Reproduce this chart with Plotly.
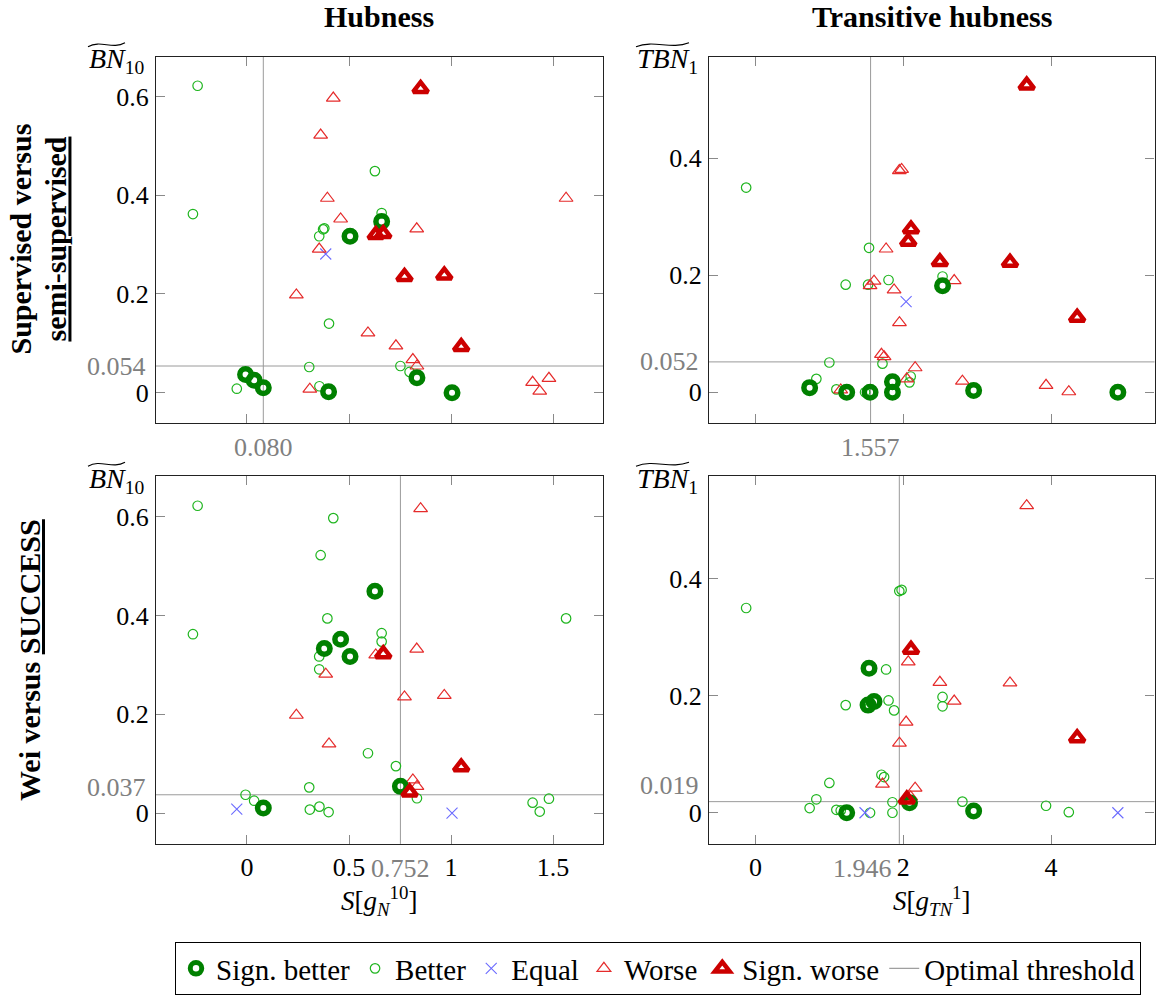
import plotly.graph_objects as go

FIG_W, FIG_H = 1156, 995
FONT = "Liberation Serif, DejaVu Serif, serif"
GRAY = "#808080"

# ---------------- data ----------------
cat_codes = ["SB", "B", "E", "W", "SW"]
cat_names = ["Sign. better", "Better", "Equal", "Worse", "Sign. worse"]

# Hubness: S[g_N^10] vs BN~_10 (shared by both rows)
hub_s = [-0.242, 0.423, 0.851, 0.361, 0.627, 0.394, 1.564, -0.265, 0.660, 0.660,
         0.459, 0.379, 0.373, 0.354, 0.505, 0.631, 0.668, 0.832, 0.354, 0.386,
         0.772, 0.967, 0.242, 0.402, 0.593, 0.730, 1.050, 0.813, 0.833, 0.305,
         0.752, 0.797, 0.833, -0.007, 0.035, 0.080, -0.050, 0.308, 0.355, 0.400,
         1.005, 1.400, 1.480, 1.435]
hub_bn = [0.622, 0.597, 0.616, 0.522, 0.449, 0.394, 0.394, 0.362, 0.364, 0.347,
          0.352, 0.333, 0.331, 0.317, 0.317, 0.320, 0.322, 0.332, 0.291, 0.281,
          0.235, 0.238, 0.198, 0.140, 0.121, 0.095, 0.093, 0.067, 0.054, 0.052,
          0.054, 0.042, 0.030, 0.037, 0.025, 0.010, 0.008, 0.007, 0.013, 0.002,
          0.000, 0.021, 0.029, 0.003]
hub_cat_sup = ["B", "W", "SW", "W", "B", "W", "W", "B", "B", "SB",
               "W", "B", "B", "B", "SB", "SW", "SW", "W", "W", "E",
               "SW", "SW", "W", "B", "W", "W", "SW", "W", "W", "B",
               "B", "B", "SB", "SB", "SB", "SB", "B", "W", "B", "SB",
               "SB", "W", "W", "W"]
hub_cat_wei = ["B", "B", "W", "B", "SB", "B", "B", "B", "B", "B",
               "SB", "SB", "B", "B", "SB", "W", "SW", "W", "B", "W",
               "W", "W", "W", "W", "B", "B", "SW", "W", "W", "B",
               "SB", "SW", "B", "B", "B", "SB", "E", "B", "B", "B",
               "E", "B", "B", "B"]

# Transitive hubness: S[g_TN^1] vs TBN~_1 (shared by both rows)
thub_s = [3.670, 1.946, 1.977, -0.127, 2.104, 2.067, 1.536, 1.767, 2.495, 3.444,
          1.220, 1.523, 1.550, 1.604, 1.800, 1.875, 2.531, 2.531, 2.689, 2.038,
          1.948, 4.353, 1.704, 1.740, 1.718, 0.999, 2.160, 0.823, 0.732, 1.094,
          1.153, 1.234, 1.482, 1.550, 1.853, 1.853, 2.047, 2.100, 2.084, 2.800,
          2.952, 3.932, 4.240, 4.904]
thub_tbn = [0.525, 0.379, 0.381, 0.350, 0.279, 0.258, 0.247, 0.245, 0.223, 0.222,
            0.184, 0.184, 0.1825, 0.190, 0.192, 0.175, 0.198, 0.182, 0.191, 0.155,
            0.119, 0.128, 0.065, 0.061, 0.049, 0.051, 0.042, 0.023, 0.008, 0.005,
            0.004, 0.000, 0.000, 0.000, 0.018, 0.000, 0.023, 0.027, 0.017, 0.019,
            0.003, 0.012, 0.001, 0.000]
thub_cat_sup = ["SW", "W", "W", "B", "SW", "SW", "B", "W", "SW", "SW",
                "B", "B", "W", "W", "B", "W", "B", "SB", "W", "E",
                "W", "SW", "W", "W", "B", "B", "W", "B", "SB", "B",
                "W", "SB", "B", "SB", "SB", "SB", "W", "B", "B", "W",
                "SB", "W", "W", "SB"]
thub_cat_wei = ["W", "B", "B", "B", "SW", "W", "SB", "B", "W", "W",
                "B", "SB", "B", "SB", "B", "B", "B", "B", "W", "W",
                "W", "SW", "B", "B", "W", "B", "W", "B", "B", "B",
                "B", "SB", "E", "B", "B", "B", "SW", "W", "SB", "B",
                "SB", "B", "B", "E"]

# optimal thresholds (x, y) per panel
thr_sup_hub = (0.080, 0.054)
thr_wei_hub = (0.752, 0.037)
thr_sup_thub = (1.557, 0.052)
thr_wei_thub = (1.946, 0.019)

hub_xticks = [0, 0.5, 1, 1.5]
hub_yticks = [0, 0.2, 0.4, 0.6]
thub_xticks = [0, 2, 4]
thub_yticks = [0, 0.2, 0.4]

# ---------------- styles ----------------
STYLE = {
    "SB": dict(symbol="circle-open", size=11.5, color="#008000", lw=5.5),
    "B":  dict(symbol="circle-open", size=9.5, color="#1fb51f", lw=1.2),
    "E":  dict(symbol="x-thin-open", size=11, color="#6b6bff", lw=1.1),
    "W":  dict(symbol="triangle-up-open", size=12, color="#e52b2b", lw=1.2),
    "SW": dict(symbol="triangle-up-open", size=13, color="#cc0000", lw=4.5),
}
DRAW_ORDER = ["B", "E", "W", "SB", "SW"]


def px2x(px):
    return px / FIG_W


def px2y(py):
    return 1 - py / FIG_H


# plot area pixel boxes: (left, right, top, bottom)
BOX = {
    "tl": (156, 603, 57, 426),
    "tr": (709, 1154.5, 57, 426),
    "bl": (156, 603, 479, 849),
    "br": (709, 1154.5, 479, 849),
}

panels = [
    dict(key="tl", ax="", s=hub_s, v=hub_bn, cat=hub_cat_sup, thr=thr_sup_hub,
         xt=hub_xticks, yt=hub_yticks, xlab=False, xr=[-0.446, 1.745], yr=[-0.0624, 0.681],
         xanc="center", xsh=0, ysh=0),
    dict(key="tr", ax="2", s=thub_s, v=thub_tbn, cat=thub_cat_sup, thr=thr_sup_thub,
         xt=thub_xticks, yt=thub_yticks, xlab=False, xr=[-0.63, 5.40], yr=[-0.0532, 0.5738],
         xanc="center", xsh=0, ysh=0),
    dict(key="bl", ax="3", s=hub_s, v=hub_bn, cat=hub_cat_wei, thr=thr_wei_hub,
         xt=hub_xticks, yt=hub_yticks, xlab=True, xr=[-0.446, 1.745], yr=[-0.0624, 0.682],
         xanc="center", xsh=0, ysh=7),
    dict(key="br", ax="4", s=thub_s, v=thub_tbn, cat=thub_cat_wei, thr=thr_wei_thub,
         xt=thub_xticks, yt=thub_yticks, xlab=True, xr=[-0.63, 5.40], yr=[-0.0532, 0.5755],
         xanc="right", xsh=-5, ysh=16),
]


def fmt(v):
    return f"{v:g}"


fig = go.Figure()
layout = dict(
    width=FIG_W, height=FIG_H, autosize=False,
    margin=dict(l=0, r=0, t=0, b=0, pad=0),
    paper_bgcolor="white", plot_bgcolor="white",
    font=dict(family=FONT, size=26, color="black"),
    showlegend=True,
    legend=dict(orientation="h", x=px2x(658), xanchor="center", y=px2y(948), yanchor="top",
                bordercolor="black", borderwidth=1, font=dict(family=FONT, size=29),
                bgcolor="white", traceorder="normal", itemwidth=30, tracegroupgap=0),
    shapes=[], annotations=[],
)


def ann(text, px, py, size=26, angle=0, xanchor="center", yanchor="middle", color="black"):
    layout["annotations"].append(dict(
        text=text, x=px2x(px), y=px2y(py), xref="paper", yref="paper",
        showarrow=False, textangle=angle, xanchor=xanchor, yanchor=yanchor,
        font=dict(family=FONT, size=size, color=color)))


for i, p in enumerate(panels):
    l, r, t, b = BOX[p["key"]]
    xa, ya = "x" + p["ax"], "y" + p["ax"]
    for code in DRAW_ORDER:
        st = STYLE[code]
        xs = [x for x, c in zip(p["s"], p["cat"]) if c == code]
        ys = [y for y, c in zip(p["v"], p["cat"]) if c == code]
        fig.add_trace(go.Scatter(
            x=xs, y=ys, mode="markers", xaxis=xa, yaxis=ya,
            name=cat_names[cat_codes.index(code)],
            legendrank=cat_codes.index(code) + 1,
            showlegend=(i == 0), hoverinfo="skip",
            marker=dict(symbol=st["symbol"], size=st["size"], color=st["color"],
                        line=dict(width=st["lw"], color=st["color"])),
        ))
    tx, ty = p["thr"]
    common = dict(showline=True, linecolor="#222222", linewidth=1.2, mirror="ticks",
                  ticks="inside", ticklen=9, tickwidth=1, tickcolor="#8a8a8a",
                  showgrid=False, zeroline=False, tickmode="array", automargin=False,
                  tickfont=dict(family=FONT, size=26, color="black"))
    layout["xaxis" + p["ax"]] = dict(common, domain=[px2x(l), px2x(r)], range=p["xr"],
                                     anchor=ya, tickvals=p["xt"],
                                     ticktext=[fmt(v) for v in p["xt"]],
                                     showticklabels=p["xlab"], ticklabelstandoff=0)
    layout["yaxis" + p["ax"]] = dict(common, domain=[px2y(b), px2y(t)], range=p["yr"],
                                     anchor=xa, tickvals=p["yt"],
                                     ticktext=[fmt(v) for v in p["yt"]],
                                     ticklabelstandoff=1)
    # threshold lines
    layout["shapes"].append(dict(type="line", xref=xa, yref=ya + " domain", x0=tx, x1=tx,
                                 y0=0, y1=1, line=dict(color="#9a9a9a", width=1), layer="below"))
    layout["shapes"].append(dict(type="line", xref=xa + " domain", yref=ya, x0=0, x1=1,
                                 y0=ty, y1=ty, line=dict(color="#9a9a9a", width=1), layer="below"))
    # threshold labels (gray), placed like extra tick labels
    layout["annotations"].append(dict(
        text=f"{tx:.3f}", x=tx, xref=xa, y=px2y(b), yref="paper", yanchor="top",
        xanchor=p["xanc"], xshift=p["xsh"], yshift=-8, showarrow=False,
        font=dict(family=FONT, size=26, color=GRAY)))
    layout["annotations"].append(dict(
        text=f"{ty:.3f}", y=ty, yref=ya, x=px2x(l), xref="paper", xanchor="right",
        yanchor="middle", xshift=-8, yshift=p["ysh"], showarrow=False,
        font=dict(family=FONT, size=26, color=GRAY)))

# legend entry for thresholds
fig.add_trace(go.Scatter(x=[None], y=[None], mode="lines", xaxis="x", yaxis="y",
                         name="Optimal threshold", legendrank=6,
                         line=dict(color="#9a9a9a", width=1.2), hoverinfo="skip"))


def tilde(x0, x1, yc, a=2.0):
    w = x1 - x0

    def P(px, py):
        return f"{px2x(px):.5f},{px2y(py):.5f}"
    path = ("M " + P(x0, yc + a) + " C " + P(x0 + 0.35 * w, yc - 2.6 * a) + " "
            + P(x0 + 0.65 * w, yc + 2.6 * a) + " " + P(x1, yc - a))
    layout["shapes"].append(dict(type="path", xref="paper", yref="paper", path=path,
                                 line=dict(color="black", width=1.1)))


# column titles
ann("<b>Hubness</b>", 379, 17, size=30)
ann("<b>Transitive hubness</b>", 932, 17, size=30)

# row labels
ann("<b>Supervised versus</b>", 21, 241, size=30, angle=-90)
ann("<b><u>semi-supervised</u></b>", 56, 241, size=30, angle=-90)
ann("<b>Wei versus <u>SUCCESS</u></b>", 30, 664, size=30, angle=-90)

# y-axis labels (top-left of each panel)
for dy in (0, 422):
    ann("<i>BN</i><sub>10</sub>", 147, 61 + dy, size=28, xanchor="right")
    tilde(88, 125, 45 + dy)
    ann("<i>TBN</i><sub>1</sub>", 700, 61 + dy, size=28, xanchor="right")
    tilde(636, 689, 45 + dy)

# x-axis titles
ann("<i>S</i>[<i>g</i><sub><i>N</i></sub><sup>10</sup>]", 379, 906, size=27)
ann("<i>S</i>[<i>g</i><sub><i>TN</i></sub><sup>1</sup>]", 932, 906, size=27)

fig.update_layout(**layout)
fig.write_html("out.html", config={"displayModeBar": False},
               post_script="document.body.style.margin='0px';"
                           "document.body.style.overflow='hidden';")
